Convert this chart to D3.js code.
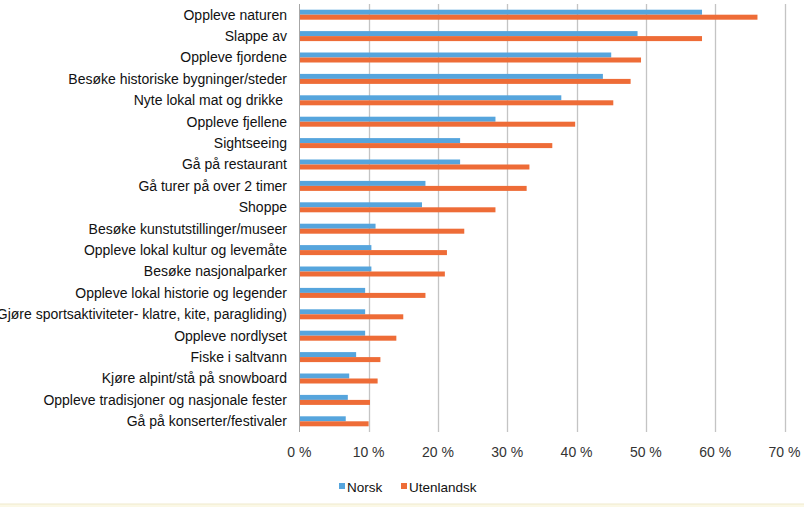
<!DOCTYPE html>
<html><head><meta charset="utf-8">
<script src="https://cdn.jsdelivr.net/npm/d3@7"></script>
<style>
html,body{margin:0;padding:0;background:#fff;}
svg{display:block;font-family:"Liberation Sans",Arial,sans-serif;}
</style></head>
<body><svg id="c" width="804" height="507"></svg>
<script>
const categories = ["Oppleve naturen","Slappe av","Oppleve fjordene","Besøke historiske bygninger/steder","Nyte lokal mat og drikke ","Oppleve fjellene","Sightseeing","Gå på restaurant","Gå turer på over 2 timer","Shoppe","Besøke kunstutstillinger/museer","Oppleve lokal kultur og levemåte","Besøke nasjonalparker","Oppleve lokal historie og legender","(Gjøre sportsaktiviteter- klatre, kite, paragliding)","Oppleve nordlyset","Fiske i saltvann","Kjøre alpint/stå på snowboard","Oppleve tradisjoner og nasjonale fester","Gå på konserter/festivaler"];
const norsk = [58.1,48.8,45.0,43.8,37.8,28.3,23.2,23.2,18.2,17.7,11.0,10.4,10.4,9.5,9.5,9.5,8.2,7.2,7.0,6.7];
const utenlandsk = [66.1,58.1,49.3,47.8,45.3,39.8,36.5,33.2,32.8,28.3,23.8,21.3,21.0,18.2,15.0,14.0,11.7,11.3,10.2,10.0];
const seriesNames = ["Norsk","Utenlandsk"];
const xTicks = [0,10,20,30,40,50,60,70];
const colors = ["#56a5dd","#ee6c37"];

const svg = d3.select("#c");
svg.append("rect").attr("x",0).attr("y",504).attr("width",804).attr("height",3).attr("fill","#fbf8e6");
svg.append("line").attr("x1",0).attr("x2",804).attr("y1",504).attr("y2",504).attr("stroke","#efe9cc").attr("stroke-width",1);

const x = d3.scaleLinear().domain([0,70]).range([299.3,784.5]);
const y = d3.scaleBand().domain(categories).range([4,432]);
const sub = d3.scaleBand().domain(seriesNames).range([y.bandwidth()/2-5, y.bandwidth()/2+5]);

svg.append("g").selectAll("line").data(xTicks.slice(1)).join("line")
  .attr("x1",d=>Math.round(x(d))+0.5).attr("x2",d=>Math.round(x(d))+0.5)
  .attr("y1",4).attr("y2",432).attr("stroke","#c4c4c4").attr("stroke-width",1.3);

const data = categories.map((c,i)=>({c, v:[norsk[i],utenlandsk[i]]}));
const g = svg.append("g");
data.forEach(d=>{
  seriesNames.forEach((s,j)=>{
    g.append("rect").attr("x",x(0)).attr("y",y(d.c)+sub(s))
      .attr("width",x(d.v[j])-x(0)).attr("height",sub.bandwidth())
      .attr("fill",colors[j]);
  });
});

svg.append("line").attr("x1",299.5).attr("x2",299.5).attr("y1",4).attr("y2",432).attr("stroke","#a6a6a6").attr("stroke-width",1);

svg.append("g").selectAll("text").data(categories).join("text")
  .attr("x",287).attr("y",d=>y(d)+y.bandwidth()/2).attr("dy","0.35em")
  .attr("text-anchor","end").attr("font-size",14).attr("fill","#111").style("white-space","pre")
  .text(d=>d);

svg.append("g").selectAll("text").data(xTicks).join("text")
  .attr("x",d=>x(d)).attr("y",452).attr("dy","0.35em").attr("text-anchor","middle")
  .attr("font-size",14).attr("fill","#333").text(d=>d+" %");

const leg = svg.append("g");
const lx = [339,401];
seriesNames.forEach((s,j)=>{
  leg.append("rect").attr("x",lx[j]).attr("y",483).attr("width",6).attr("height",6).attr("fill",colors[j]);
  leg.append("text").attr("x",lx[j]+8).attr("y",487).attr("dy","0.35em").attr("font-size",13.5).attr("fill","#111").text(s);
});
</script></body></html>
